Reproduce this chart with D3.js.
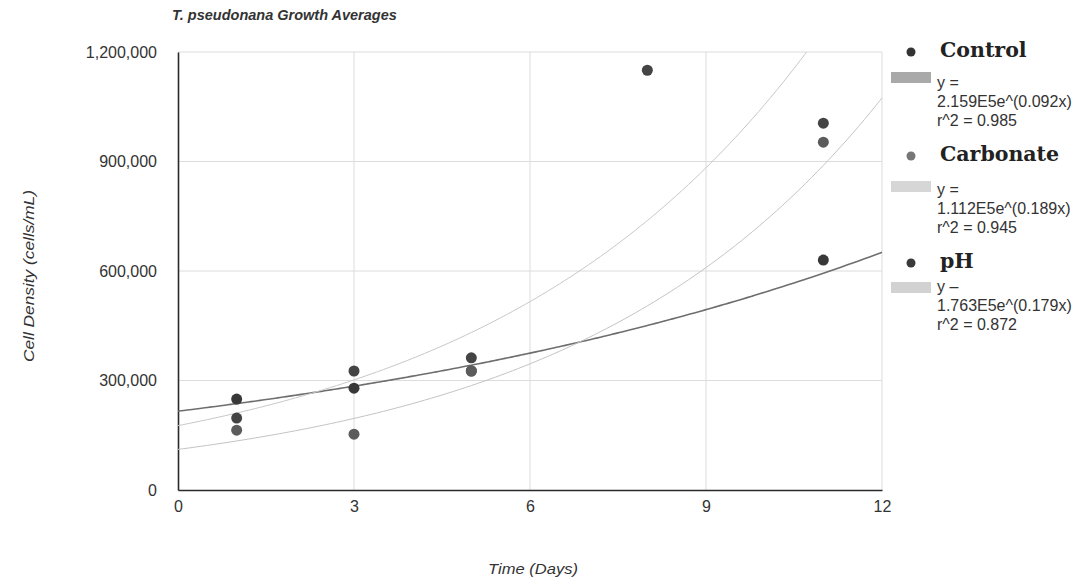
<!DOCTYPE html>
<html>
<head>
<meta charset="utf-8">
<script src="https://cdn.jsdelivr.net/npm/d3@7"></script>
<style>
  body { margin: 0; background: #fff; }
  svg { font-family: Arial, "Liberation Sans", sans-serif; }
</style>
</head>
<body>
<div id="chart"></div>
<script>
// data
var seriesNames = ["Control", "Carbonate", "pH"];
var controlPts = [[1, 249000], [3, 279000], [5, 326000], [11, 630000]];
var carbonatePts = [[1, 164000], [3, 153000], [5, 326000], [11, 953000]];
var phPts = [[1, 197000], [3, 326000], [5, 362000], [8, 1150000], [11, 1005000]];
// exponential fits y = a * e^(b x), from the legend
var fitA = [2.159e5, 1.112e5, 1.763e5];
var fitB = [0.092, 0.189, 0.179];
var fitR2 = ["0.985", "0.945", "0.872"];
var fitLabel = ["2.159E5e^(0.092x)", "1.112E5e^(0.189x)", "1.763E5e^(0.179x)"];
var eqPrefix = ["y =", "y =", "y \u2013"];
var xTicks = [0, 3, 6, 9, 12];
var yTicks = [0, 300000, 600000, 900000, 1200000];

var allPts = [controlPts, carbonatePts, phPts];
var dotColor = ["#383838", "#5c5c5c", "#444444"];
var bulletColor = ["#333", "#777", "#3a3a3a"];
var lineColor = ["#6e6e6e", "#c4c4c4", "#c8c8c8"];
var lineWidth = [1.6, 1, 1];
var swatchColor = ["#a9a9a9", "#d6d6d6", "#d2d2d2"];

var W = 1082, H = 581;
var margin = {top: 52, right: 200, bottom: 91, left: 178};
var width = 882 - margin.left,
    height = 490 - margin.top;

var svg = d3.select("#chart").append("svg")
    .attr("width", W)
    .attr("height", H);

var g = svg.append("g")
    .attr("transform", "translate(" + margin.left + "," + margin.top + ")");

var x = d3.scaleLinear().domain([0, 12]).range([0, width]);
var y = d3.scaleLinear().domain([0, 1200000]).range([height, 0]);

// grid
g.append("g").selectAll("line.h")
    .data(yTicks.slice(1))
    .enter().append("line")
    .attr("x1", 0).attr("x2", width)
    .attr("y1", function(d){ return y(d); })
    .attr("y2", function(d){ return y(d); })
    .attr("stroke", "#dcdcdc").attr("stroke-width", 1);

g.append("g").selectAll("line.v")
    .data(xTicks.slice(1))
    .enter().append("line")
    .attr("y1", 0).attr("y2", height)
    .attr("x1", function(d){ return x(d); })
    .attr("x2", function(d){ return x(d); })
    .attr("stroke", "#dcdcdc").attr("stroke-width", 1);

// axes
var xAxis = d3.axisBottom(x).tickValues(xTicks).tickSize(0).tickPadding(11);
var yAxis = d3.axisLeft(y).tickValues(yTicks).tickSize(0).tickPadding(21)
    .tickFormat(d3.format(","));

var gx = g.append("g").attr("transform", "translate(0," + height + ")").call(xAxis);
var gy = g.append("g").call(yAxis);
[gx, gy].forEach(function(a){
    a.select(".domain").attr("stroke", "#2a2a2a").attr("stroke-width", 1.6);
    a.selectAll("text").attr("font-size", 16).attr("fill", "#333")
        .attr("font-family", "Arial, 'Liberation Sans', sans-serif");
});
gy.selectAll("text").attr("dy", "0.32em");

// trendlines
g.append("clipPath").attr("id", "clip")
    .append("rect").attr("width", width).attr("height", height);

var line = d3.line()
    .x(function(d){ return x(d[0]); })
    .y(function(d){ return y(d[1]); })
    .curve(d3.curveBasis);

fitA.forEach(function(a, i){
    var pts = d3.range(0, 12.01, 0.1).map(function(t){ return [t, a * Math.exp(fitB[i] * t)]; });
    g.append("path")
        .attr("clip-path", "url(#clip)")
        .attr("d", line(pts))
        .attr("fill", "none")
        .attr("stroke", lineColor[i])
        .attr("stroke-width", lineWidth[i]);
});

// points
allPts.forEach(function(pts, i){
    g.selectAll(".dot" + i)
        .data(pts)
        .enter().append("circle")
        .attr("cx", function(d){ return x(d[0]); })
        .attr("cy", function(d){ return y(d[1]); })
        .attr("r", 5.5)
        .attr("fill", dotColor[i]);
});

// titles
svg.append("text")
    .attr("x", 172).attr("y", 20)
    .attr("font-size", 14.5).attr("font-weight", "bold").attr("font-style", "italic")
    .attr("fill", "#333")
    .text("T. pseudonana Growth Averages");

svg.append("text")
    .attr("x", 533).attr("y", 574)
    .attr("text-anchor", "middle")
    .attr("font-size", 15).attr("font-style", "italic").attr("fill", "#333")
    .attr("textLength", 90).attr("lengthAdjust", "spacingAndGlyphs")
    .text("Time (Days)");

svg.append("text")
    .attr("transform", "translate(34,276) rotate(-90)")
    .attr("text-anchor", "middle")
    .attr("font-size", 15).attr("font-style", "italic").attr("fill", "#333")
    .attr("textLength", 172).attr("lengthAdjust", "spacingAndGlyphs")
    .text("Cell Density (cells/mL)");

// legend
var legTitleY = [57, 161, 268];
var legSwatchY = [72, 181, 282];
var legEqY = [88, 195, 292];
seriesNames.forEach(function(name, i){
    var lg = svg.append("g");
    lg.append("circle").attr("cx", 911).attr("cy", legTitleY[i] - 5).attr("r", 4.5).attr("fill", bulletColor[i]);
    lg.append("text").attr("x", 940).attr("y", legTitleY[i])
        .attr("font-family", "'DejaVu Serif', 'Liberation Serif', serif")
        .attr("font-weight", "bold").attr("font-size", 20.5).attr("fill", "#222")
        .text(name);
    lg.append("rect").attr("x", 891).attr("y", legSwatchY[i]).attr("width", 40).attr("height", 11)
        .attr("fill", swatchColor[i]);
    [eqPrefix[i], fitLabel[i], "r^2 = " + fitR2[i]].forEach(function(t, k){
        lg.append("text").attr("x", 937).attr("y", legEqY[i] + k * 19)
            .attr("font-size", 16).attr("fill", "#333")
            .text(t);
    });
});
</script>
</body>
</html>
